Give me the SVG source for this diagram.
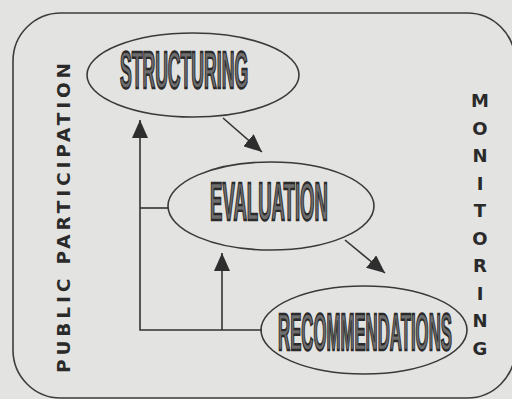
<svg xmlns="http://www.w3.org/2000/svg" width="512" height="399" viewBox="0 0 512 399">
  <defs>
    <marker id="ah" markerUnits="userSpaceOnUse" markerWidth="18" markerHeight="16" refX="18" refY="8" orient="auto">
      <path d="M0,0 L18,8 L0,16 z" fill="#2e2e2e"/>
    </marker>
  </defs>
  <style>
    .bg { fill: #e3e3e1; }
    .frame { fill: none; stroke: #3c3c3c; stroke-width: 1.6; }
    .node { fill: none; stroke: #3a3a3a; stroke-width: 1.6; }
    .lbl { font-family: "Liberation Sans", "DejaVu Sans", sans-serif; font-weight: bold; fill: #6e6e6e; stroke: #2a2a2a; stroke-width: 2.4; text-anchor: middle; }
    .side { font-family: "DejaVu Sans", "Liberation Sans", sans-serif; font-weight: bold; fill: #2a2a2a; }
    .conn { fill: none; stroke: #333; stroke-width: 1.6; }
  </style>
  <rect class="bg" x="0" y="0" width="512" height="399"/>
  <rect class="frame" x="13" y="13" width="502" height="385" rx="48" ry="48"/>

  <g id="public-participation">
    <text class="side" x="0" y="0" font-size="18.5" text-anchor="middle" textLength="310" lengthAdjust="spacing" transform="translate(70,218) rotate(-90)">PUBLIC PARTICIPATION</text>
  </g>

  <g id="monitoring" class="side" font-size="18" text-anchor="middle">
    <text x="480" y="107">M</text>
    <text x="480" y="134.5">O</text>
    <text x="480" y="162">N</text>
    <text x="480" y="189.5">I</text>
    <text x="480" y="217">T</text>
    <text x="480" y="244.5">O</text>
    <text x="480" y="272">R</text>
    <text x="480" y="299.5">I</text>
    <text x="480" y="327">N</text>
    <text x="480" y="354.5">G</text>
  </g>

  <g id="structuring">
    <ellipse class="node" cx="193" cy="75" rx="106" ry="42"/>
    <text class="lbl" x="0" y="0" font-size="52" textLength="378" lengthAdjust="spacingAndGlyphs" transform="translate(184,88) scale(0.339,1)">STRUCTURING</text>
  </g>

  <g id="evaluation">
    <ellipse class="node" cx="271" cy="206" rx="103" ry="44"/>
    <text class="lbl" x="0" y="0" font-size="54" textLength="351" lengthAdjust="spacingAndGlyphs" transform="translate(269,220) scale(0.336,1)">EVALUATION</text>
  </g>

  <g id="recommendations">
    <ellipse class="node" cx="364" cy="330" rx="103" ry="44"/>
    <text class="lbl" x="0" y="0" font-size="52" textLength="552" lengthAdjust="spacingAndGlyphs" transform="translate(365,350) scale(0.315,1)">RECOMMENDATIONS</text>
  </g>

  <g id="connectors">
    <line class="conn" x1="223" y1="118" x2="262" y2="152" marker-end="url(#ah)"/>
    <line class="conn" x1="345" y1="240" x2="385" y2="273" marker-end="url(#ah)"/>
    <path class="conn" d="M262,330 H140 V120" marker-end="url(#ah)"/>
    <path class="conn" d="M140,208 H168"/>
    <path class="conn" d="M222,330 V253" marker-end="url(#ah)"/>
  </g>
</svg>
